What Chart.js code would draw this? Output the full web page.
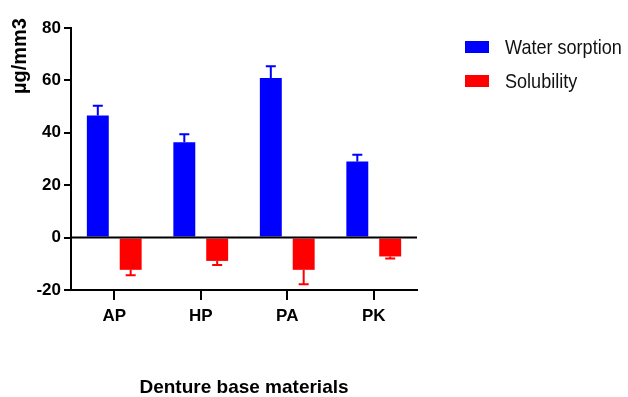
<!DOCTYPE html>
<html lang="en">

<head>
    <meta charset="UTF-8">
    <meta name="viewport" content="width=device-width, initial-scale=1.0">
    <style>
        body { margin: 0; background: #fff; }
        .chart-container { position: relative; width: 628px; height: 397px; }
    </style>
</head>

<body>
    <div class="chart-container">
        <canvas id="myChart"></canvas>
    </div>

    <script src="https://cdn.jsdelivr.net/npm/chart.js"></script>

    <script>
        const categories = ['AP', 'HP', 'PA', 'PK'];
        const waterSorption = [46.6, 36.4, 60.9, 29.0];
        const waterSorptionSD = [3.7, 3.0, 4.5, 2.6];
        const solubility = [-12.3, -8.9, -12.3, -7.2];
        const solubilitySD = [2.1, 1.6, 5.5, 0.8];
        const yMin = -20, yMax = 80, yStep = 20;

        const FONT = "'Liberation Sans', Arial, sans-serif";

        // one-sided SD whiskers with a cap, plus the zero line over the bar bases
        const errorBars = {
            id: 'errorBars',
            afterDatasetsDraw(chart) {
                const { ctx, chartArea, scales: { y } } = chart;
                ctx.save();
                ctx.lineWidth = 2;
                chart.data.datasets.forEach((ds, i) => {
                    const meta = chart.getDatasetMeta(i);
                    ctx.strokeStyle = ds.backgroundColor;
                    meta.data.forEach((bar, j) => {
                        const v = ds.data[j];
                        const end = y.getPixelForValue(v + Math.sign(v) * ds.errors[j]);
                        ctx.beginPath();
                        ctx.moveTo(bar.x, bar.y);
                        ctx.lineTo(bar.x, end);
                        ctx.moveTo(bar.x - 5, end);
                        ctx.lineTo(bar.x + 5, end);
                        ctx.stroke();
                    });
                });
                const y0 = y.getPixelForValue(0);
                ctx.strokeStyle = '#000';
                ctx.beginPath();
                ctx.moveTo(chartArea.left, y0);
                ctx.lineTo(chartArea.right, y0);
                ctx.stroke();
                ctx.restore();
            }
        };

        // y title near the top of the axis, and the legend to the right
        const decorations = {
            id: 'decorations',
            afterDraw(chart) {
                const { ctx, chartArea } = chart;
                ctx.save();
                ctx.fillStyle = '#000';
                ctx.font = "bold 20px " + FONT;
                ctx.textAlign = 'center';
                ctx.textBaseline = 'middle';
                ctx.translate(20, 56);
                ctx.rotate(-Math.PI / 2);
                ctx.fillText('µg/mm3', 0, 0);
                ctx.restore();

                chart.data.datasets.forEach((ds, i) => {
                    const x = chartArea.right + 48;
                    const cy = chartArea.top + 19 + i * 34;
                    ctx.save();
                    ctx.fillStyle = ds.backgroundColor;
                    ctx.fillRect(x, cy - 6, 24, 12);
                    // legend text is set in a narrow face
                    ctx.translate(x + 40, cy + 1);
                    ctx.scale(0.86, 1);
                    ctx.font = "21px " + FONT;
                    ctx.textBaseline = 'middle';
                    ctx.fillStyle = '#111';
                    ctx.fillText(ds.label, 0, 0);
                    ctx.restore();
                });
            }
        };

        const ctx = document.getElementById('myChart');

        window.myChart = new Chart(ctx, {
            type: 'bar',
            data: {
                labels: categories,
                datasets: [{
                    label: 'Water sorption',
                    data: waterSorption,
                    errors: waterSorptionSD,
                    backgroundColor: '#0000ff',
                    categoryPercentage: 0.76,
                    barPercentage: 0.667
                },
                {
                    label: 'Solubility',
                    data: solubility,
                    errors: solubilitySD,
                    backgroundColor: '#ff0000',
                    categoryPercentage: 0.76,
                    barPercentage: 0.667
                }]
            },
            options: {
                responsive: true,
                maintainAspectRatio: false,
                animation: false,
                layout: { padding: { top: 28, right: 211, bottom: 0, left: 0 } },
                plugins: {
                    legend: { display: false },
                    tooltip: { enabled: false }
                },
                scales: {
                    x: {
                        grid: { drawOnChartArea: false, offset: false, tickLength: 10, color: '#000', lineWidth: 2 },
                        border: { color: '#000', width: 2 },
                        ticks: { color: '#000', padding: 6, font: { family: FONT, size: 17, weight: 'bold' } },
                        title: {
                            display: true,
                            text: 'Denture base materials',
                            color: '#000',
                            padding: { top: 0, bottom: -2 },
                            font: { family: FONT, size: 19, weight: 'bold' }
                        },
                        afterFit: (s) => { s.height = 107; }
                    },
                    y: {
                        min: yMin,
                        max: yMax,
                        grid: { drawOnChartArea: false, tickLength: 7, color: '#000', tickColor: '#000', lineWidth: 2 },
                        border: { color: '#000', width: 2 },
                        ticks: { stepSize: yStep, color: '#000', padding: 3, font: { family: FONT, size: 17, weight: 'bold' } },
                        afterFit: (s) => { s.width = 71; }
                    }
                }
            },
            plugins: [errorBars, decorations]
        });
    </script>
</body>

</html>
